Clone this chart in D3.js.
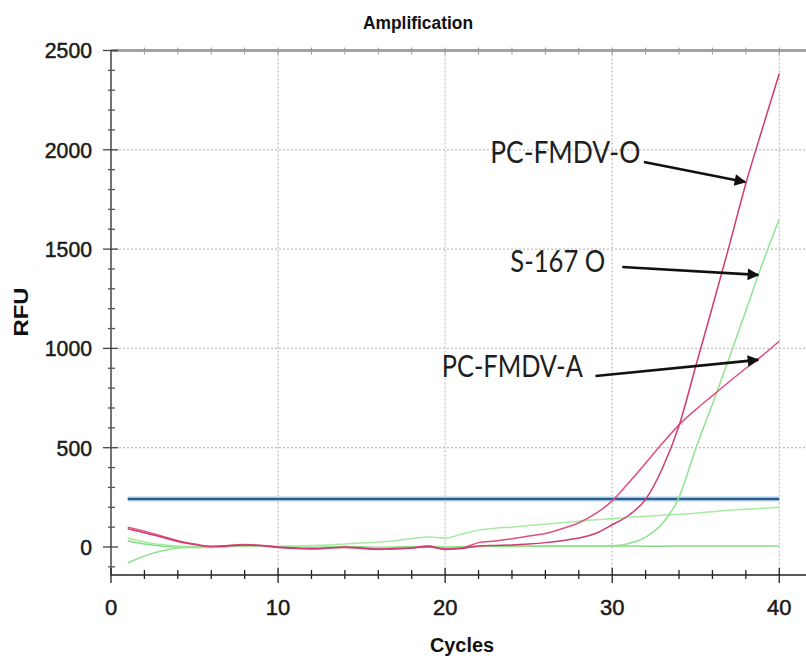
<!DOCTYPE html>
<html>
<head>
<meta charset="utf-8">
<script src="https://cdn.jsdelivr.net/npm/d3@7"></script>
<style>
  body { margin: 0; background: #fff; }
  svg { display: block; }
  .grid line { stroke: #bdbdbd; stroke-width: 1.2; stroke-dasharray: 2,2; }
  .curve { fill: none; stroke-width: 1.5; stroke-linejoin: round; }
</style>
</head>
<body>
<svg id="chart" width="806" height="660"></svg>
<script>
// cycles 1..40
var cycles = [1,2,3,4,5,6,7,8,9,10,11,12,13,14,15,16,17,18,19,20,
              21,22,23,24,25,26,27,28,29,30,31,32,33,34,35,36,37,38,39,40];

// RFU, one value per cycle
var pcFmdvO = [92,72,50,28,12,2,5,10,8,0,-5,-8,-5,0,-5,-10,-8,-5,5,-12,
               -8,5,8,10,15,22,32,45,68,112,160,240,395,610,910,1210,1515,1830,2110,2384];
var pcFmdvA = [100,80,56,32,15,3,8,12,8,-3,-8,-10,-6,-2,-8,-12,-10,-5,0,-10,
               -5,22,30,42,55,68,92,122,168,232,325,422,522,615,692,762,832,900,965,1036];
var s167O   = [-80,-45,-20,-5,0,2,4,6,5,2,0,-2,0,2,0,-2,0,2,4,0,
               2,3,4,4,5,5,5,5,5,6,18,50,118,250,495,720,950,1190,1430,1650];
var greenHigh = [45,25,12,5,2,0,3,5,5,3,5,8,10,15,20,25,32,42,50,45,
                 65,85,95,100,108,115,122,130,137,143,150,155,160,165,170,178,185,190,195,200];
var greenFlat = [30,15,5,0,-3,-2,2,4,3,0,-2,-3,-1,2,0,-3,-2,0,3,-2,
                 0,2,3,3,4,4,5,5,5,5,5,4,4,5,5,5,5,5,5,5];

var threshold = 242;
var series = [
  {name: "greenFlat", values: greenFlat, color: "#86dc86"},
  {name: "greenHigh", values: greenHigh, color: "#a6eca0"},
  {name: "S-167 O",   values: s167O,     color: "#8fe38f"},
  {name: "PC-FMDV-A", values: pcFmdvA,   color: "#e0507c"},
  {name: "PC-FMDV-O", values: pcFmdvO,   color: "#cf3a72"}
];

var yMajor = [0, 500, 1000, 1500, 2000, 2500];
var yMinor = [-100,100,200,300,400,600,700,800,900,1100,1200,1300,1400,1600,1700,1800,1900,2100,2200,2300,2400];
var xMajor = [0, 10, 20, 30, 40];
var xMinor = [2,4,6,8,12,14,16,18,22,24,26,28,32,34,36,38];

// annotation labels: text position and arrow (start -> tip), in cycle / RFU units
var notes = [
  {label: "PC-FMDV-O", tx: 22.7, ty: 1934, w: 150, from: [31.9, 1939], to: [37.96, 1838]},
  {label: "S-167 O",   tx: 23.9, ty: 1385, w: 95,  from: [30.6, 1410], to: [38.74, 1370]},
  {label: "PC-FMDV-A", tx: 19.8, ty: 856,  w: 141, from: [29.0, 861],  to: [38.74, 942]}
];

var svg = d3.select("#chart");

var x = d3.scaleLinear().domain([0, 41.6]).range([111, 806]);
var y = d3.scaleLinear().domain([-141, 2500]).range([575, 50.5]);

// grid
var grid = svg.append("g").attr("class", "grid");
grid.selectAll("line.v").data([10, 20, 30, 40]).enter().append("line")
  .attr("x1", function(d) { return x(d); }).attr("x2", function(d) { return x(d); })
  .attr("y1", y(2500)).attr("y2", y(-141));
grid.selectAll("line.h").data([500, 1000, 1500, 2000]).enter().append("line")
  .attr("x1", x(0)).attr("x2", 806)
  .attr("y1", function(d) { return y(d); }).attr("y2", function(d) { return y(d); });

// top frame
svg.append("line")
  .attr("x1", x(0)).attr("x2", 806).attr("y1", y(2500)).attr("y2", y(2500))
  .style("stroke", "#a3a3a3").style("stroke-width", 3);
svg.append("g").selectAll("line").data(xMinor.concat([10,20,30,40])).enter().append("line")
  .attr("x1", function(d) { return x(d); }).attr("x2", function(d) { return x(d); })
  .attr("y1", y(2500) - 3).attr("y2", y(2500) + 4)
  .style("stroke", "#999").style("stroke-width", 1);

// threshold
svg.append("line")
  .attr("x1", x(1)).attr("x2", x(40)).attr("y1", y(threshold)).attr("y2", y(threshold))
  .style("stroke", "#cfe6f7").style("stroke-width", 6);
svg.append("line")
  .attr("x1", x(1)).attr("x2", x(40)).attr("y1", y(threshold)).attr("y2", y(threshold))
  .style("stroke", "#2e5c8a").style("stroke-width", 2.4);

// curves
var line = d3.line()
  .x(function(d, i) { return x(cycles[i]); })
  .y(function(d) { return y(d); })
  .curve(d3.curveMonotoneX);

svg.append("g").selectAll("path").data(series).enter().append("path")
  .attr("class", "curve")
  .attr("d", function(d) { return line(d.values); })
  .style("stroke", function(d) { return d.color; });

// y axis
var yAxis = svg.append("g").attr("transform", "translate(" + x(0) + ",0)");
yAxis.append("line")
  .attr("y1", y(2500)).attr("y2", y(-141))
  .style("stroke", "#444").style("stroke-width", 1.5);
yAxis.selectAll("line.maj").data(yMajor).enter().append("line")
  .attr("x1", -8).attr("x2", 7)
  .attr("y1", function(d) { return y(d); }).attr("y2", function(d) { return y(d); })
  .style("stroke", "#444").style("stroke-width", 1.3);
yAxis.selectAll("line.min").data(yMinor).enter().append("line")
  .attr("x1", -3).attr("x2", 4)
  .attr("y1", function(d) { return y(d); }).attr("y2", function(d) { return y(d); })
  .style("stroke", "#555").style("stroke-width", 1.3);
yAxis.selectAll("text").data(yMajor).enter().append("text")
  .attr("x", -19).attr("y", function(d) { return y(d); })
  .attr("dy", "0.36em")
  .attr("text-anchor", "end")
  .attr("textLength", function(d) { return String(d).length * 11.8; })
  .attr("lengthAdjust", "spacingAndGlyphs")
  .style("font-family", "'Liberation Sans', Arial, sans-serif")
  .style("font-size", "22px")
  .style("fill", "#1a1a1a")
  .style("stroke", "#1a1a1a").style("stroke-width", 0.5)
  .text(function(d) { return d; });

// x axis
var xAxis = svg.append("g").attr("transform", "translate(0," + y(-141) + ")");
xAxis.append("line")
  .attr("x1", x(0)).attr("x2", 806)
  .style("stroke", "#222").style("stroke-width", 1.5);
xAxis.selectAll("line.maj").data(xMajor).enter().append("line")
  .attr("x1", function(d) { return x(d); }).attr("x2", function(d) { return x(d); })
  .attr("y1", -7).attr("y2", 8)
  .style("stroke", "#222").style("stroke-width", 1.3);
xAxis.selectAll("line.min").data(xMinor).enter().append("line")
  .attr("x1", function(d) { return x(d); }).attr("x2", function(d) { return x(d); })
  .attr("y1", -5).attr("y2", 4)
  .style("stroke", "#222").style("stroke-width", 1.3);
xAxis.selectAll("text").data(xMajor).enter().append("text")
  .attr("x", function(d) { return x(d); }).attr("y", 40)
  .attr("text-anchor", "middle")
  .style("font-family", "'Liberation Sans', Arial, sans-serif")
  .style("font-size", "22px")
  .style("fill", "#1a1a1a")
  .style("stroke", "#1a1a1a").style("stroke-width", 0.5)
  .text(function(d) { return d; });

// titles
svg.append("text")
  .attr("x", 418).attr("y", 29)
  .attr("text-anchor", "middle")
  .attr("textLength", 110).attr("lengthAdjust", "spacingAndGlyphs")
  .style("font-family", "'Liberation Sans', Arial, sans-serif")
  .style("font-size", "18px").style("font-weight", "bold")
  .style("fill", "#111")
  .text("Amplification");

svg.append("text")
  .attr("x", 462).attr("y", 652)
  .attr("text-anchor", "middle")
  .attr("textLength", 64).attr("lengthAdjust", "spacingAndGlyphs")
  .style("font-family", "'Liberation Sans', Arial, sans-serif")
  .style("font-size", "20px").style("font-weight", "bold")
  .style("fill", "#111")
  .text("Cycles");

svg.append("text")
  .attr("transform", "translate(28,312) rotate(-90)")
  .attr("text-anchor", "middle")
  .attr("textLength", 49).attr("lengthAdjust", "spacingAndGlyphs")
  .style("font-family", "'Liberation Sans', Arial, sans-serif")
  .style("font-size", "20px").style("font-weight", "bold")
  .style("fill", "#111")
  .text("RFU");

// annotations
svg.append("defs").append("marker")
  .attr("id", "head")
  .attr("viewBox", "0 0 10 10")
  .attr("refX", 9).attr("refY", 5)
  .attr("markerWidth", 5.5).attr("markerHeight", 4.5)
  .attr("markerUnits", "strokeWidth")
  .attr("orient", "auto")
  .append("path").attr("d", "M0,0L10,5L0,10Z").style("fill", "#111");

var ann = svg.append("g").selectAll("g").data(notes).enter().append("g");
ann.append("text")
  .attr("x", function(d) { return x(d.tx); })
  .attr("y", function(d) { return y(d.ty); })
  .attr("textLength", function(d) { return d.w; })
  .attr("lengthAdjust", "spacingAndGlyphs")
  .style("font-family", "Lato, 'Open Sans', sans-serif")
  .style("font-size", "30px")
  .style("fill", "#1e1e1e")
  .text(function(d) { return d.label; });
ann.append("line")
  .attr("x1", function(d) { return x(d.from[0]); })
  .attr("y1", function(d) { return y(d.from[1]); })
  .attr("x2", function(d) { return x(d.to[0]); })
  .attr("y2", function(d) { return y(d.to[1]); })
  .style("stroke", "#111").style("stroke-width", 2.6)
  .attr("marker-end", "url(#head)");
</script>
</body>
</html>
